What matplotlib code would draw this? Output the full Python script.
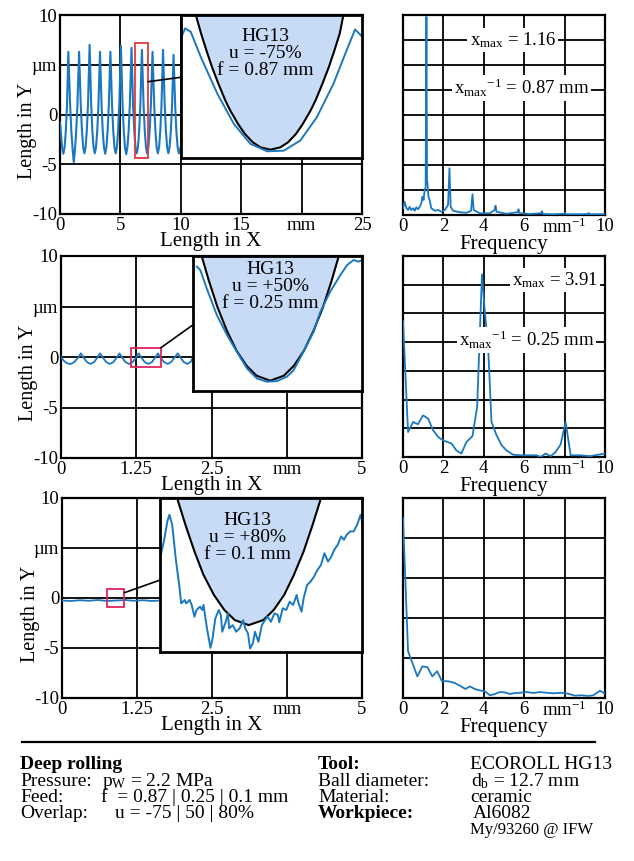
import matplotlib.pyplot as plt
from matplotlib.patches import Rectangle
from matplotlib.lines import Line2D

plt.rcParams['font.family'] = 'Liberation Serif'
plt.rcParams['mathtext.fontset'] = 'custom'
plt.rcParams['mathtext.rm'] = 'Liberation Serif'
plt.rcParams['mathtext.it'] = 'Liberation Serif:italic'

BLUE = '#1b78c0'
BALL = '#c8dbf6'

# ---- surface profiles, length in X (mm) / length in Y (um) ----
prof1_x = [0, 0.08, 0.18, 0.28, 0.38, 0.48, 0.58, 0.69,
           0.84, 0.94, 1.04, 1.14, 1.24, 1.34, 1.44, 1.58,
           1.72, 1.82, 1.92, 2.02, 2.12, 2.22, 2.32, 2.45,
           2.58, 2.68, 2.78, 2.88, 2.98, 3.08, 3.18, 3.31,
           3.44, 3.54, 3.64, 3.74, 3.84, 3.94, 4.04, 4.17,
           4.31, 4.41, 4.51, 4.61, 4.71, 4.81, 4.91, 5.04,
           5.18, 5.28, 5.38, 5.48, 5.58, 5.68, 5.78, 5.92,
           6.05, 6.15, 6.25, 6.35, 6.45, 6.55, 6.65, 6.78,
           6.92, 7.02, 7.12, 7.22, 7.32, 7.42, 7.52, 7.66,
           7.80, 7.90, 8.00, 8.10, 8.20, 8.30, 8.40, 8.53,
           8.67, 8.77, 8.87, 8.97, 9.07, 9.17, 9.27, 9.40,
           9.54, 9.64, 9.74, 9.84, 9.94, 10.0]
prof1_y = [-0.8, -1.9, -3.4, -3.95, -3.3, -1.7, 0.9, 6.3,
           0.9, -1.7, -3.4, -4.8, -3.5, -1.7, 0.9, 6.3,
           0.9, -1.7, -3.3, -3.9, -3.3, -1.6, 1.1, 7.0,
           1.0, -1.7, -3.3, -3.9, -3.3, -1.7, 0.9, 6.3,
           0.9, -1.7, -3.3, -3.95, -3.3, -1.7, 0.9, 6.3,
           0.9, -1.7, -3.3, -3.9, -3.3, -1.6, 1.1, 6.9,
           1.0, -1.7, -3.3, -4.0, -3.3, -1.7, 1.0, 6.7,
           0.9, -1.7, -3.3, -3.9, -3.3, -1.7, 0.9, 6.5,
           0.9, -1.7, -3.3, -3.95, -3.3, -1.7, 0.9, 6.3,
           0.9, -1.7, -3.3, -3.9, -3.3, -1.7, 0.9, 6.5,
           0.9, -1.7, -3.3, -3.9, -3.3, -1.8, 0.7, 6.0,
           0.7, -1.8, -3.3, -3.9, -3.5, -3.2]

prof2_x = [0, 0.05, 0.10, 0.16, 0.22, 0.28, 0.33,
           0.38, 0.43, 0.49, 0.55, 0.60, 0.65,
           0.70, 0.75, 0.81, 0.87, 0.92, 0.97,
           1.02, 1.07, 1.13, 1.19, 1.24, 1.29,
           1.34, 1.39, 1.45, 1.51, 1.56, 1.61,
           1.66, 1.71, 1.77, 1.83, 1.88, 1.94,
           1.99, 2.04, 2.10, 2.16, 2.19]
prof2_y = [0, -0.40, -0.62, -0.69, -0.50, -0.10, 0.36,
           -0.10, -0.50, -0.69, -0.50, -0.10, 0.36,
           -0.10, -0.50, -0.69, -0.50, -0.10, 0.36,
           -0.10, -0.50, -0.69, -0.50, -0.10, 0.36,
           -0.10, -0.50, -0.69, -0.50, -0.10, 0.36,
           -0.10, -0.50, -0.69, -0.50, -0.10, 0.36,
           -0.10, -0.50, -0.69, -0.45, -0.05]

prof3_x = [0, 0.15, 0.30, 0.45, 0.60, 0.75, 0.90, 1.05, 1.20, 1.35, 1.50, 1.64]
prof3_y = [-0.25, -0.30, -0.22, -0.28, -0.20, -0.30, -0.25, -0.20, -0.28, -0.22, -0.30, -0.25]

# ---- zoomed details (local mm / um inside the zoom box) ----
det1_x = [0, 0.026, 0.060, 0.121, 0.222, 0.322, 0.423, 0.524, 0.625, 0.725,
          0.826, 0.927, 1.007, 1.058, 1.098]
det1_y = [5.29, 6.11, 5.84, 3.80, 0.80, -1.65, -3.28, -3.88, -3.83, -3.01,
          -1.11, 1.62, 4.34, 6.03, 5.48]
ball1_x = [0.091, 0.123, 0.155, 0.189, 0.228, 0.270, 0.300, 0.347, 0.389, 0.437,
           0.484, 0.544, 0.604, 0.651, 0.699, 0.741, 0.788, 0.818, 0.860, 0.899,
           0.933, 0.965, 0.987]
ball1_y = [7.2, 5.70, 4.34, 2.98, 1.62, 0.26, -0.56, -1.65, -2.47, -3.15,
           -3.56, -3.75, -3.56, -3.15, -2.47, -1.65, -0.56, 0.26, 1.62, 2.98,
           4.34, 5.70, 7.2]

det2_x = [0.012, 0.022, 0.041, 0.071, 0.101, 0.130, 0.160, 0.189, 0.219, 0.249,
          0.278, 0.298, 0.327, 0.357, 0.377, 0.406, 0.436, 0.456, 0.475, 0.490, 0.500]
det2_y = [0.769, 0.721, 0.461, 0.083, -0.200, -0.437, -0.673, -0.815, -0.862, -0.853,
          -0.791, -0.697, -0.437, -0.153, 0.130, 0.414, 0.650, 0.792, 0.863, 0.840, 0.863]
ball2_x = [0.0266, 0.0473, 0.0730, 0.1006, 0.1292, 0.1588, 0.1883, 0.2288,
           0.2692, 0.2988, 0.3283, 0.3569, 0.3845, 0.4102, 0.4309]
ball2_y = [0.911, 0.570, 0.192, -0.139, -0.423, -0.636, -0.777, -0.848,
           -0.777, -0.636, -0.423, -0.139, 0.192, 0.570, 0.911]

det3_x = [0, 0.005, 0.010, 0.013, 0.017, 0.022, 0.027, 0.030, 0.035, 0.037,
          0.042, 0.045, 0.049, 0.052, 0.057, 0.060, 0.062, 0.067, 0.072, 0.075,
          0.079, 0.084, 0.087, 0.089, 0.094, 0.097, 0.099, 0.104, 0.109, 0.114,
          0.119, 0.122, 0.126, 0.129, 0.133, 0.136, 0.141, 0.146, 0.149, 0.154,
          0.159, 0.164, 0.169, 0.171, 0.176, 0.181, 0.186, 0.191, 0.196, 0.198,
          0.203, 0.206, 0.211, 0.216, 0.221, 0.226, 0.231, 0.236, 0.241, 0.246,
          0.250, 0.255, 0.260, 0.264, 0.268, 0.273, 0.278, 0.283, 0.288, 0.293,
          0.295, 0.300]
det3_y = [0.208, 0.378, 0.605, 0.681, 0.567, 0.189, -0.114, -0.322, -0.284, -0.322,
          -0.284, -0.340, -0.473, -0.397, -0.359, -0.397, -0.340, -0.605, -0.825, -0.719,
          -0.492, -0.397, -0.454, -0.643, -0.530, -0.435, -0.605, -0.568, -0.643, -0.605,
          -0.511, -0.605, -0.662, -0.832, -0.775, -0.643, -0.757, -0.568, -0.530, -0.473,
          -0.530, -0.435, -0.454, -0.537, -0.378, -0.397, -0.303, -0.340, -0.227, -0.303,
          -0.416, -0.265, -0.114, -0.076, -0.019, 0.057, 0.113, 0.246, 0.151, 0.208,
          0.284, 0.340, 0.435, 0.397, 0.454, 0.492, 0.492, 0.567, 0.681, 0.492,
          0.359, 0.416]
ball3_x = [0.024, 0.036, 0.049, 0.062, 0.077, 0.092, 0.107, 0.127,
           0.148, 0.163, 0.178, 0.192, 0.206, 0.219, 0.231]
ball3_y = [0.87, 0.567, 0.265, 0.0, -0.227, -0.397, -0.511, -0.568,
           -0.511, -0.397, -0.227, 0.0, 0.265, 0.567, 0.87]

# ---- frequency spectra (mm^-1 / arbitrary amplitude) ----
spec1_x = [0, 0.08, 0.17, 0.25, 0.33, 0.41, 0.50, 0.58, 0.66, 0.74,
           0.83, 0.91, 0.96, 1.02, 1.07, 1.12, 1.16, 1.19, 1.21, 1.26,
           1.32, 1.40, 1.57, 1.74, 1.90, 2.07, 2.23, 2.30, 2.36, 2.48,
           2.81, 3.14, 3.37, 3.44, 3.50, 3.80, 4.30, 4.53, 4.58, 4.63,
           5.12, 5.67, 5.72, 5.77, 6.28, 6.83, 6.88, 6.93, 7.44, 7.98,
           8.03, 8.08, 8.76, 9.16, 9.19, 9.24, 10.0]
spec1_y = [0.27, 0.53, 0.27, 0.20, 0.33, 0.20, 0.27, 0.17, 0.31, 0.23,
           0.33, 0.47, 0.73, 0.60, 1.00, 1.10, 7.93, 1.40, 1.27, 0.73,
           0.60, 0.27, 0.17, 0.20, 0.13, 0.20, 0.40, 1.87, 0.33, 0.17,
           0.11, 0.09, 0.17, 0.83, 0.20, 0.07, 0.07, 0.20, 0.37, 0.13,
           0.05, 0.11, 0.23, 0.07, 0.04, 0.07, 0.15, 0.04, 0.03, 0.05,
           0.09, 0.03, 0.03, 0.04, 0.08, 0.03, 0.03]

spec2_x = [0, 0.25, 0.50, 0.74, 0.99, 1.24, 1.49, 1.74, 1.98, 2.40,
           2.64, 2.89, 3.14, 3.44, 3.67, 3.91, 4.05, 4.21, 4.38, 4.63,
           4.88, 5.12, 5.45, 5.79, 6.28, 6.61, 6.81, 7.06, 7.31, 7.55,
           7.80, 8.05, 8.30, 8.76, 9.26, 9.67, 10.0]
spec2_y = [4.73, 0.87, 1.22, 1.14, 1.45, 1.34, 0.93, 0.70, 0.58, 0.47,
           0.23, 0.12, 0.52, 0.73, 1.74, 6.36, 5.06, 3.90, 1.22, 0.76,
           0.41, 0.23, 0.08, 0.06, 0.06, 0.06, 0.0, 0.12, 0.03, 0.17,
           0.43, 1.22, 0.06, 0.06, 0.03, 0.08, 0.12]

spec3_x = [0, 0.25, 0.50, 0.71, 0.96, 1.21, 1.45, 1.69, 1.93, 2.23,
           2.56, 2.81, 3.09, 3.31, 3.55, 3.80, 4.05, 4.30, 4.55, 4.79,
           5.04, 5.29, 5.54, 5.79, 6.12, 6.45, 6.78, 7.11, 7.44, 7.85,
           8.18, 8.51, 8.84, 9.17, 9.42, 9.75, 10.0]
spec3_y = [4.5, 1.17, 0.83, 0.54, 0.79, 0.77, 0.54, 0.67, 0.42, 0.42,
           0.375, 0.31, 0.225, 0.29, 0.225, 0.19, 0.17, 0.067, 0.10, 0.15,
           0.14, 0.10, 0.125, 0.13, 0.15, 0.125, 0.15, 0.13, 0.117, 0.13,
           0.108, 0.058, 0.067, 0.05, 0.067, 0.18, 0.108]

# zoom boxes (x0, x1, y0, y1) in profile units, and the HG13 labels
boxes = [(6.2, 7.3, -4.4, 7.2), (1.16, 1.66, -0.99, 0.92), (0.75, 1.04, -0.87, 0.87)]
box_colors = ['#e03a3a', '#e0245a', '#e0245a']
overlaps = ['u = -75%', 'u = +50%', 'u = +80%']
feeds = ['f = 0.87 mm', 'f = 0.25 mm', 'f = 0.1 mm']
peak_freq = ['1.16', '3.91']
peak_wave = ['0.87 mm', '0.25 mm']


def style(ax, lw=1.6):
    for s in ax.spines.values():
        s.set_linewidth(lw)
    ax.tick_params(length=0, labelsize=13.5, pad=2)
    ax.grid(True, color='black', lw=1.3)


fig = plt.figure(figsize=(6.34, 8.61), dpi=100)
W, H = 634, 861


def px_axes(x0, y0, x1, y1):
    return fig.add_axes([x0 / W, 1 - y1 / H, (x1 - x0) / W, (y1 - y0) / H])


left = [px_axes(60, 15, 362, 214), px_axes(61, 256, 362, 458), px_axes(62, 498, 362, 698)]
right = [px_axes(403, 15, 605, 215), px_axes(403, 256, 605, 457), px_axes(403, 498, 605, 698)]

profiles = [(prof1_x, prof1_y), (prof2_x, prof2_y), (prof3_x, prof3_y)]
details = [(det1_x, det1_y, ball1_x, ball1_y),
           (det2_x, det2_y, ball2_x, ball2_y),
           (det3_x, det3_y, ball3_x, ball3_y)]
inset_bounds = [[10, -4.34, 15, 14.34], [2.19, -3.34, 2.81, 13.34], [1.64, -5.38, 3.36, 15.38]]
links = [([7.3, 10.0], [3.3, 3.74]), ([1.66, 2.19], [0.92, 3.17]), ([1.04, 1.67], [0.53, 1.87])]
text_pos = [(0.467, 0.73), (0.46, 0.775), (0.43, 0.745)]

for i, ax in enumerate(left):
    style(ax)
    px, py = profiles[i]
    ax.plot(px, py, color=BLUE, lw=1.5 if i == 0 else 1.3, zorder=3)
    ax.set_ylim(-10, 10)
    ax.set_yticks([-10, -5, 0, 5, 10])
    ax.set_yticklabels(['-10', '-5', '0', '\u00b5m', '10'])
    if i == 0:
        ax.set_xlim(0, 25)
        ax.set_xticks([0, 5, 10, 15, 20, 25])
        ax.set_xticklabels(['0', '5', '10', '15', 'mm', '25'])
    else:
        ax.set_xlim(0, 5)
        ax.set_xticks([0, 1.25, 2.5, 3.75, 5])
        ax.set_xticklabels(['0', '1.25', '2.5', 'mm', '5'])
    ax.set_xlabel('Length in X', fontsize=15, labelpad=-1.5)
    ax.set_ylabel('Length in Y', fontsize=14.5)
    ax.yaxis.set_label_coords(-0.075, 0.42)

    x0, x1, y0, y1 = boxes[i]
    ax.add_patch(Rectangle((x0, y0), x1 - x0, y1 - y0, fill=False,
                           edgecolor=box_colors[i], lw=1.3, zorder=4))
    ax.plot(links[i][0], links[i][1], color='black', lw=1.2, zorder=4)

    ins = ax.inset_axes(inset_bounds[i], transform=ax.transData)
    dx, dy, bx, by = details[i]
    ins.set_xlim(0, x1 - x0)
    ins.set_ylim(y0, y1)
    ins.fill_between(bx, by, y1, color=BALL, lw=0)
    ins.plot(bx, by, color='black', lw=1.5)
    ins.plot(dx, dy, color=BLUE, lw=1.4)
    ins.set_xticks([])
    ins.set_yticks([])
    for s in ins.spines.values():
        s.set_linewidth(2)
    tx, ty = text_pos[i]
    ins.text(tx, ty, 'HG13\n' + overlaps[i] + '\n' + feeds[i], transform=ins.transAxes,
             ha='center', va='center', fontsize=14, linespacing=1.0)

spectra = [(spec1_x, spec1_y, 8), (spec2_x, spec2_y, 7), (spec3_x, spec3_y, 5)]
label_pos = [((5.44, 7.0), (5.87, 5.08)), ((7.52, 6.16), (6.12, 4.07))]

for i, ax in enumerate(right):
    style(ax)
    sx, sy, top = spectra[i]
    ax.plot(sx, sy, color=BLUE, lw=1.3, zorder=3)
    ax.set_xlim(0, 10)
    ax.set_ylim(0, top)
    ax.set_yticks(range(top + 1))
    ax.set_yticklabels([])
    ax.set_xticks([0, 2, 4, 6, 8, 10])
    ax.set_xticklabels(['0', '2', '4', '6', 'mm$^{-1}$', '10'])
    ax.set_xlabel('Frequency', fontsize=15, labelpad=-1.5)
    if i < 2:
        (ax1, ay1), (ax2, ay2) = label_pos[i]
        bb = dict(facecolor='white', edgecolor='none', pad=1.5)
        ax.text(ax1, ay1, 'x$_{\\mathrm{max}}$ = ' + peak_freq[i], ha='center', va='center',
                fontsize=13.5, bbox=bb, zorder=5)
        ax.text(ax2, ay2, 'x$_{\\mathrm{max}}$$^{\\mathrm{-1}}$ = ' + peak_wave[i], ha='center',
                va='center', fontsize=13.5, bbox=bb, zorder=5)

# process parameters below the panels
fig.add_artist(Line2D([22 / W, 595 / W], [1 - 742 / H, 1 - 742 / H], color='black', lw=1.6))

rows = [
    [(20, 'Deep rolling', 'bold'), (318, 'Tool:', 'bold'), (470, 'ECOROLL HG13', 'normal')],
    [(20, 'Pressure:', 'normal'), (102, 'p$_{\\mathrm{W}}$ = 2.2 MPa', 'normal'),
     (318, 'Ball diameter:', 'normal'), (471, 'd$_{\\mathrm{b}}$ = 12.7 mm', 'normal')],
    [(20, 'Feed:', 'normal'), (101, 'f  = 0.87 | 0.25 | 0.1 mm', 'normal'),
     (318, 'Material:', 'normal'), (470, 'ceramic', 'normal')],
    [(20, 'Overlap:', 'normal'), (115, 'u = -75 | 50 | 80%', 'normal'),
     (318, 'Workpiece:', 'bold'), (473, 'Al6082', 'normal')],
]
baselines = [769, 786, 802, 818]
for base, row in zip(baselines, rows):
    for x, s, w in row:
        fig.text(x / W, 1 - base / H, s, fontsize=14, fontweight=w, va='baseline', ha='left')
fig.text(470 / W, 1 - 834 / H, 'My/93260 @ IFW', fontsize=12, va='baseline', ha='left')

fig.savefig('out.png', dpi=100)
